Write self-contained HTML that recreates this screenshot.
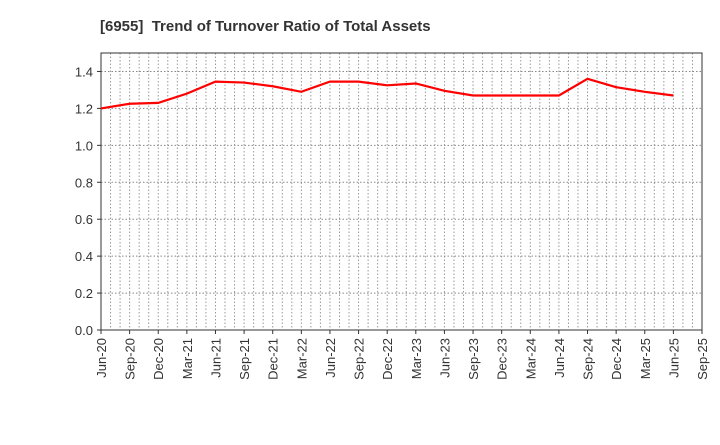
<!DOCTYPE html>
<html><head><meta charset="utf-8"><style>
body{margin:0;background:#fff;font-family:"Liberation Sans",sans-serif}
</style></head><body>
<svg id="c" width="720" height="440" xmlns="http://www.w3.org/2000/svg">
<text x="100" y="31" font-size="15" font-weight="bold" fill="#333" xml:space="preserve">[6955]  Trend of Turnover Ratio of Total Assets</text>
<g id="grid"></g><g id="axes"></g><g id="series"></g>
</svg>
<script>
const categories=["Jun-20","Sep-20","Dec-20","Mar-21","Jun-21","Sep-21","Dec-21","Mar-22","Jun-22","Sep-22","Dec-22","Mar-23","Jun-23","Sep-23","Dec-23","Mar-24","Jun-24","Sep-24","Dec-24","Mar-25","Jun-25","Sep-25"];
const values=[1.20,1.225,1.23,1.28,1.345,1.34,1.32,1.29,1.345,1.345,1.325,1.335,1.295,1.27,1.27,1.27,1.27,1.36,1.315,1.29,1.27];
const yTicks=[0,0.2,0.4,0.6,0.8,1.0,1.2,1.4];
const L=101,R=702,T=53,B=330,yMax=1.5;
const NS="http://www.w3.org/2000/svg";
const x=i=>L+(R-L)*i/(categories.length-1);
const y=v=>B-(B-T)*v/yMax;
function mk(tag,attrs,parent){const e=document.createElementNS(NS,tag);for(const k in attrs)e.setAttribute(k,attrs[k]);parent.appendChild(e);return e;}
const grid=document.getElementById('grid'),axes=document.getElementById('axes'),series=document.getElementById('series');
const months=(categories.length-1)*3;
for(let m=1;m<months;m++){const xx=L+(R-L)*m/months;
const g=mk('line',{x1:xx,x2:xx,y1:T,y2:B,stroke:'#999','stroke-dasharray':'1.5,2','stroke-width':1},grid);

}
yTicks.forEach(v=>{const yy=y(v);
if(v>0){const g=mk('line',{x1:L,x2:R,y1:yy,y2:yy,stroke:'#888','stroke-dasharray':'1.5,2','stroke-width':1},grid);

}
mk('line',{x1:L-4,x2:L,y1:yy,y2:yy,stroke:'#333'},axes);
const t=mk('text',{x:L-8,y:yy+5,'text-anchor':'end','font-size':13,fill:'#333'},axes);t.textContent=v.toFixed(1);

});
const frame=mk('rect',{x:L,y:T,width:R-L,height:B-T,fill:'none',stroke:'#333','stroke-width':1},axes);


categories.forEach((c,i)=>{const xx=x(i);
mk('line',{x1:xx,x2:xx,y1:B,y2:B+4,stroke:'#333'},axes);
const t=mk('text',{x:0,y:0,'text-anchor':'end','font-size':13,fill:'#333',transform:`translate(${xx+5},${B+8}) rotate(-90)`},axes);t.textContent=c;

});
const p=mk('polyline',{points:values.map((v,i)=>x(i)+','+y(v)).join(' '),fill:'none',stroke:'#f00','stroke-width':2.2},series);


</script>
</body></html>
